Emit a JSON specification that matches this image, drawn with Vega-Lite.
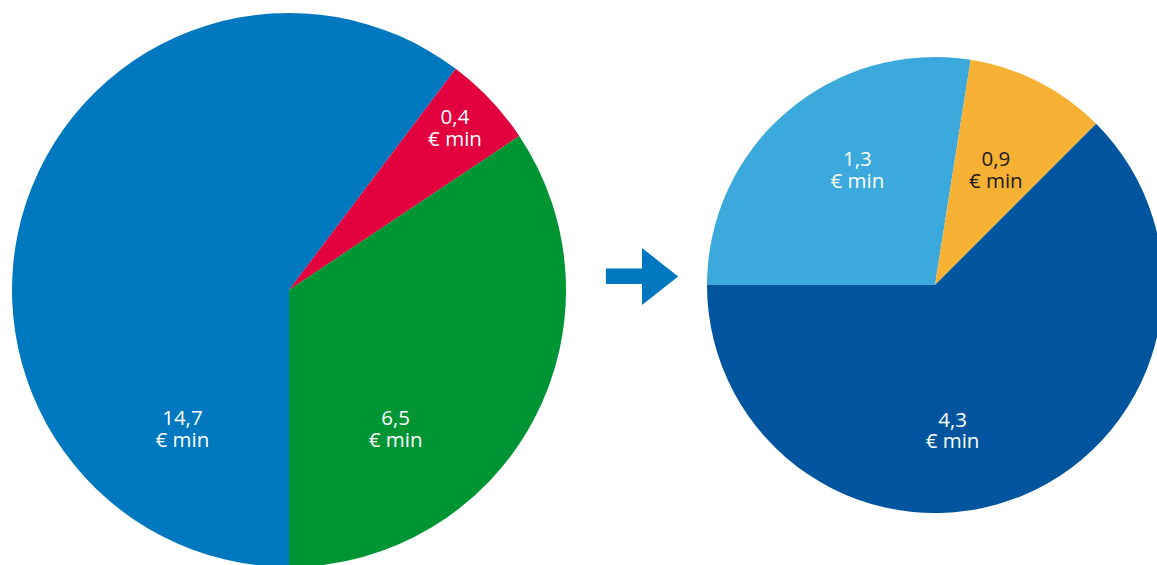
{
  "$schema": "https://vega.github.io/schema/vega-lite/v6.json",
  "background": "white",
  "padding": 0,
  "spacing": 0,
  "config": {"view": {"stroke": null}, "concat": {"spacing": 0}, "text": {"font": "Open Sans", "fontWeight": 400, "fontSize": 20.5, "lineHeight": 21.5, "lineBreak": "\n", "dy": -10.75}},
  "resolve": {"scale": {"color": "independent", "theta": "independent"}},
  "hconcat": [
    {
      "width": 578,
      "height": 580,
      "data": {"values": [
        {"amount": "14,7", "caption": "14,7\n€ min", "share": 0.6028},
        {"amount": "0,4", "caption": "0,4\n€ min", "share": 0.0534},
        {"amount": "6,5", "caption": "6,5\n€ min", "share": 0.3438}
      ]},
      "transform": [{"stack": "share", "groupby": [], "as": ["start", "end"]}],
      "layer": [
        {
          "mark": {"type": "arc", "outerRadius": 277, "strokeWidth": 0},
          "encoding": {
            "theta": {"field": "start", "type": "quantitative", "scale": {"domain": [0, 1], "range": [3.14159265, 9.42477796]}},
            "theta2": {"field": "end"},
            "color": {"field": "amount", "type": "nominal", "scale": {"domain": ["14,7", "0,4", "6,5"], "range": ["#0078BF", "#E2003E", "#009534"]}, "legend": null}
          }
        },
        {
          "transform": [{"filter": {"field": "amount", "equal": "14,7"}}],
          "mark": {"type": "text", "radius": 175.9, "thetaOffset": 0.651, "color": "white"},
          "encoding": {"theta": {"field": "start", "type": "quantitative"}, "text": {"field": "caption"}}
        },
        {
          "transform": [{"filter": {"field": "amount", "equal": "0,4"}}],
          "mark": {"type": "text", "radius": 231.3, "thetaOffset": 0.1545, "color": "white"},
          "encoding": {"theta": {"field": "start", "type": "quantitative"}, "text": {"field": "caption"}}
        },
        {
          "transform": [{"filter": {"field": "amount", "equal": "6,5"}}],
          "mark": {"type": "text", "radius": 176, "thetaOffset": 1.509, "color": "white"},
          "encoding": {"theta": {"field": "start", "type": "quantitative"}, "text": {"field": "caption"}}
        }
      ]
    },
    {
      "width": 128,
      "height": 553,
      "data": {"values": [{"symbol": "arrow"}]},
      "mark": {"type": "point", "shape": "M-1,-0.22L0,-0.22L0,-0.79L1,0L0,0.79L0,0.21L-1,0.21Z", "size": 5227, "filled": true, "color": "#0077BE", "opacity": 1, "strokeWidth": 0},
      "encoding": {}
    },
    {
      "width": 458,
      "height": 570,
      "data": {"values": [
        {"amount": "1,3", "caption": "1,3\n€ min", "share": 0.275},
        {"amount": "0,9", "caption": "0,9\n€ min", "share": 0.1},
        {"amount": "4,3", "caption": "4,3\n€ min", "share": 0.625}
      ]},
      "transform": [{"stack": "share", "groupby": [], "as": ["start", "end"]}],
      "layer": [
        {
          "mark": {"type": "arc", "outerRadius": 228, "strokeWidth": 0},
          "encoding": {
            "theta": {"field": "start", "type": "quantitative", "scale": {"domain": [0, 1], "range": [4.71238898, 10.99557429]}},
            "theta2": {"field": "end"},
            "color": {"field": "amount", "type": "nominal", "scale": {"domain": ["1,3", "0,9", "4,3"], "range": ["#3BA9DC", "#F6B134", "#00559E"]}, "legend": null}
          }
        },
        {
          "transform": [{"filter": {"field": "amount", "equal": "1,3"}}],
          "mark": {"type": "text", "radius": 138, "thetaOffset": 0.974, "color": "white"},
          "encoding": {"theta": {"field": "start", "type": "quantitative"}, "text": {"field": "caption"}}
        },
        {
          "transform": [{"filter": {"field": "amount", "equal": "0,9"}}],
          "mark": {"type": "text", "radius": 129.2, "thetaOffset": 0.333, "color": "#1a1a1a"},
          "encoding": {"theta": {"field": "start", "type": "quantitative"}, "text": {"field": "caption"}}
        },
        {
          "transform": [{"filter": {"field": "amount", "equal": "4,3"}}],
          "mark": {"type": "text", "radius": 147.7, "thetaOffset": 2.237, "color": "white"},
          "encoding": {"theta": {"field": "start", "type": "quantitative"}, "text": {"field": "caption"}}
        }
      ]
    }
  ]
}
